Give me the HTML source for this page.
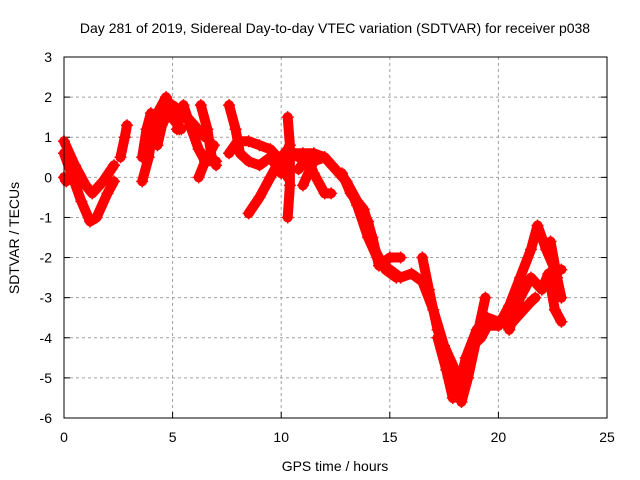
<!DOCTYPE html>
<html><head><meta charset="utf-8"><style>
body{margin:0;background:#fff;}
svg{display:block;font-family:"Liberation Sans",sans-serif;}
</style></head><body>
<svg id="chart" width="640" height="480" viewBox="0 0 640 480">
<text x="335" y="33" font-size="14" text-anchor="middle">Day 281 of 2019, Sidereal Day-to-day VTEC variation (SDTVAR) for receiver p038</text>
<text x="335" y="471" font-size="14" text-anchor="middle">GPS time / hours</text>
<text transform="translate(19,238) rotate(-90)" font-size="14" text-anchor="middle">SDTVAR / TECUs</text>
<g id="grid"></g>
<g id="ticks"></g>
<g id="series"></g>
<rect x="64" y="57" width="543" height="361" fill="none" stroke="#000" stroke-width="1"/>
</svg>
<script>
const xTicks=[0,5,10,15,20,25];
const yTicks=[3,2,1,0,-1,-2,-3,-4,-5,-6];
const trackTimes=[
[0,0.5,1.0,1.3,1.8,2.3],
[0,0.4,0.8,1.2,1.5,2.0,2.3],
[2.6,2.8,2.9],
[3.6,3.9,4.1,4.3,4.7,5.0,5.3],
[3.6,3.8,4.0],
[4.3,4.6,5.0,5.5,6.0,6.5],
[5.2,5.5,5.8,6.2,6.5,7.0],
[6.3,6.6,6.8,7.0],
[6.2,6.5,6.9],
[7.6,7.9,8.1,8.5,9.0,9.5,10.0],
[7.6,8.0,8.5,9.0,9.5,10.0,10.3],
[8.5,9.0,9.5,10.0,10.3,10.8],
[10.3,10.4,10.4,10.3],
[10.5,11,11.5,12,12.5,13,13.5,14,14.5,15,15.5,16,16.5,17,17.5,18,18.3],
[10.8,11.2,11.5,12,12.3],
[11,11.5,12],
[12.8,13.2,13.8,14.2,14.5,15,15.5],
[13.0,13.5,14.0,14.3,14.8,15.3],
[16.5,16.8,17.2,17.5,17.8,18.0],
[17.2,17.6,17.9,18.2,18.5,19.0,19.5,20,20.5,21,21.5,21.7],
[18.3,18.6,19.0,19.4],
[18.5,18.8,19.2,19.5,20,20.5,21,21.5,21.8,22.2,22.6,22.9],
[20.5,21,21.5,22,22.3,22.6,22.9],
[22.4,22.7,22.9],
[4.5,4.8,5.1,5.4],
[0,0.1]
];
const trackValues=[
[0.9,0.3,-0.2,-0.4,-0.1,0.3],
[0.6,0,-0.6,-1.1,-1.0,-0.4,-0.1],
[0.5,1.0,1.3],
[-0.1,0.5,1.2,1.6,2.0,1.6,1.2],
[0.5,1.2,1.6],
[0.8,1.5,1.8,1.6,1.3,1.0],
[1.2,1.8,1.3,0.7,0.4,0.4],
[1.8,1.2,0.5,0.3],
[0,0.4,0.8],
[1.8,1.2,0.6,0.4,0.3,0.5,0.1],
[0.6,0.9,0.9,0.8,0.7,0.4,0],
[-0.9,-0.5,0,0.5,0.7,0.5],
[1.5,0.8,-0.2,-1.0],
[0.6,0.6,0.6,0.5,0.2,-0.1,-0.7,-1.5,-2.1,-2.3,-2.5,-2.4,-2.6,-3.3,-4.2,-4.8,-5.5],
[0.2,0.5,0.1,-0.4,-0.4],
[-0.2,0.4,0.5],
[0.1,-0.4,-0.8,-1.5,-2.2,-2.0,-2.0],
[-0.1,-0.6,-1.1,-1.8,-2.3,-2.5],
[-2.0,-2.8,-3.8,-4.3,-5.0,-5.2],
[-4.0,-4.8,-5.5,-5.2,-4.5,-3.8,-3.5,-3.6,-3.7,-3.4,-3.1,-3.0],
[-5.6,-5.0,-4.0,-3.0],
[-4.5,-4.2,-4.0,-3.7,-3.7,-3.2,-2.5,-1.8,-1.2,-1.8,-2.3,-2.3],
[-3.8,-3.0,-2.5,-2.8,-2.4,-3.3,-3.6],
[-1.6,-2.5,-3.0],
[1.3,1.6,1.4,1.2],
[0.0,-0.1]
];
const NS='http://www.w3.org/2000/svg';
const X=t=>64+t*(543/25);
const Y=v=>57+(3-v)*(361/9);
const grid=document.getElementById('grid'),ticks=document.getElementById('ticks'),series=document.getElementById('series');
function mk(tag,attrs,parent){const e=document.createElementNS(NS,tag);for(const k in attrs)e.setAttribute(k,attrs[k]);parent.appendChild(e);return e;}
xTicks.forEach(t=>{
  if(t>0&&t<25){const g=mk('line',{x1:X(t),x2:X(t),y1:57,y2:418,stroke:'#a0a0a0','stroke-dasharray':'3,3'},grid);
  
  }
  const l=mk('text',{x:X(t),y:442,'font-size':14,'text-anchor':'middle'},ticks);l.textContent=t;
  
  
  mk('line',{x1:X(t),x2:X(t),y1:418,y2:412,stroke:'#000'},ticks);
});
yTicks.forEach(v=>{
  if(v<3&&v>-6){const g=mk('line',{x1:64,x2:607,y1:Y(v),y2:Y(v),stroke:'#a0a0a0','stroke-dasharray':'3,3'},grid);
  
  }
  const l=mk('text',{x:52,y:Y(v)+5,'font-size':14,'text-anchor':'end'},ticks);l.textContent=v;
  
  
  mk('line',{x1:64,x2:70,y1:Y(v),y2:Y(v),stroke:'#000'},ticks);
  mk('line',{x1:607,x2:601,y1:Y(v),y2:Y(v),stroke:'#000'},ticks);
});
trackTimes.forEach((ts,i)=>{
  const vs=trackValues[i];
  const pts=ts.map((t,j)=>X(t)+','+Y(vs[j])).join(' ');
  const p=mk('polyline',{points:pts,fill:'none',stroke:'#ff0000','stroke-width':10,'stroke-linejoin':'round','stroke-linecap':'round'},series);
  
  
  ts.forEach((t,j)=>{
    const m=mk('path',{d:`M${X(t)-6},${Y(vs[j])}h12M${X(t)},${Y(vs[j])-6}v12`,stroke:'#ff0000','stroke-width':1.5},series);
    
    
  });
});
</script>
</body></html>
